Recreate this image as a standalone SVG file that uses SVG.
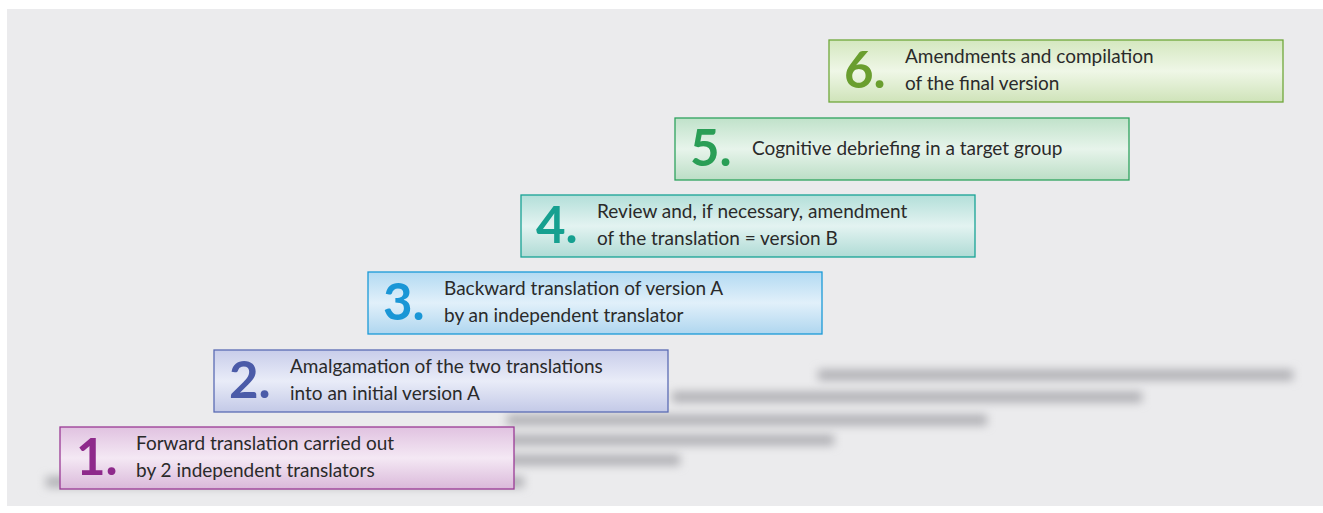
<svg xmlns="http://www.w3.org/2000/svg" width="1323" height="513" viewBox="0 0 1323 513">
<defs>
<filter id="blur" x="-10%" y="-200%" width="120%" height="500%"><feGaussianBlur stdDeviation="5 4"/></filter>
<linearGradient id="g1" x1="0" y1="0" x2="0" y2="1"><stop offset="0" stop-color="#e0c2e0"/><stop offset="0.5" stop-color="#f4e8f4"/><stop offset="1" stop-color="#dab9da"/></linearGradient>
<linearGradient id="g2" x1="0" y1="0" x2="0" y2="1"><stop offset="0" stop-color="#c8cdea"/><stop offset="0.5" stop-color="#e9ecf8"/><stop offset="1" stop-color="#c3c9e7"/></linearGradient>
<linearGradient id="g3" x1="0" y1="0" x2="0" y2="1"><stop offset="0" stop-color="#b3daf2"/><stop offset="0.5" stop-color="#e1f0fa"/><stop offset="1" stop-color="#afd6ef"/></linearGradient>
<linearGradient id="g4" x1="0" y1="0" x2="0" y2="1"><stop offset="0" stop-color="#b3dfd9"/><stop offset="0.5" stop-color="#e3f3f1"/><stop offset="1" stop-color="#afdbd5"/></linearGradient>
<linearGradient id="g5" x1="0" y1="0" x2="0" y2="1"><stop offset="0" stop-color="#c0e2ca"/><stop offset="0.5" stop-color="#e7f4eb"/><stop offset="1" stop-color="#bcdec6"/></linearGradient>
<linearGradient id="g6" x1="0" y1="0" x2="0" y2="1"><stop offset="0" stop-color="#d4e7bf"/><stop offset="0.5" stop-color="#eff7e7"/><stop offset="1" stop-color="#cfe3b9"/></linearGradient>
</defs>
<style>
.box{stroke-width:1.3}
.num{font-family:Lato,"Open Sans",sans-serif;font-weight:bold;font-size:51px}
.txt{font-family:Lato,"Noto Sans",sans-serif;font-size:19px;fill:#2a2a2a}
.sh{fill:#b6b6ba;filter:url(#blur)}
</style>
<rect x="7" y="9" width="1316" height="497" fill="#ebebed"/>
<g id="shadows">
<rect class="sh" x="46" y="476" width="478" height="12"/>
<rect class="sh" x="200" y="454" width="480" height="12"/>
<rect class="sh" x="354" y="434" width="480" height="12"/>
<rect class="sh" x="507" y="414" width="480" height="12"/>
<rect class="sh" x="672" y="391" width="470" height="12"/>
<rect class="sh" x="818" y="369" width="475" height="12"/>
</g>
<g id="step1">
<rect class="box" x="60" y="427" width="454" height="62" fill="url(#g1)" stroke="#9a3a95"/>
<text class="num" x="76" y="475" fill="#8e2a8b">1.</text>
<text class="txt" x="136" y="450">Forward translation carried out</text>
<text class="txt" x="136" y="477">by 2 independent translators</text>
</g>
<g id="step2">
<rect class="box" x="214" y="350" width="454" height="62" fill="url(#g2)" stroke="#5b6cb4"/>
<text class="num" x="229" y="398" fill="#4b5ba8">2.</text>
<text class="txt" x="290" y="373">Amalgamation of the two translations</text>
<text class="txt" x="290" y="400">into an initial version A</text>
</g>
<g id="step3">
<rect class="box" x="368" y="272" width="454" height="62" fill="url(#g3)" stroke="#1b9ad8"/>
<text class="num" x="383" y="320" fill="#1a96d6">3.</text>
<text class="txt" x="444" y="295">Backward translation of version A</text>
<text class="txt" x="444" y="322">by an independent translator</text>
</g>
<g id="step4">
<rect class="box" x="521" y="195" width="454" height="62" fill="url(#g4)" stroke="#18a395"/>
<text class="num" x="536" y="243" fill="#16a090">4.</text>
<text class="txt" x="597" y="218">Review and, if necessary, amendment</text>
<text class="txt" x="597" y="245">of the translation = version B</text>
</g>
<g id="step5">
<rect class="box" x="675" y="118" width="454" height="62" fill="url(#g5)" stroke="#2ea35e"/>
<text class="num" x="690" y="166" fill="#2a9e56">5.</text>
<text class="txt" x="752" y="155">Cognitive debriefing in a target group</text>
</g>
<g id="step6">
<rect class="box" x="829" y="40" width="454" height="62" fill="url(#g6)" stroke="#70a83b"/>
<text class="num" x="844" y="88" fill="#6a9e2f">6.</text>
<text class="txt" x="905" y="63">Amendments and compilation</text>
<text class="txt" x="905" y="90">of the final version</text>
</g>
<g id="connectors"/>
</svg>
